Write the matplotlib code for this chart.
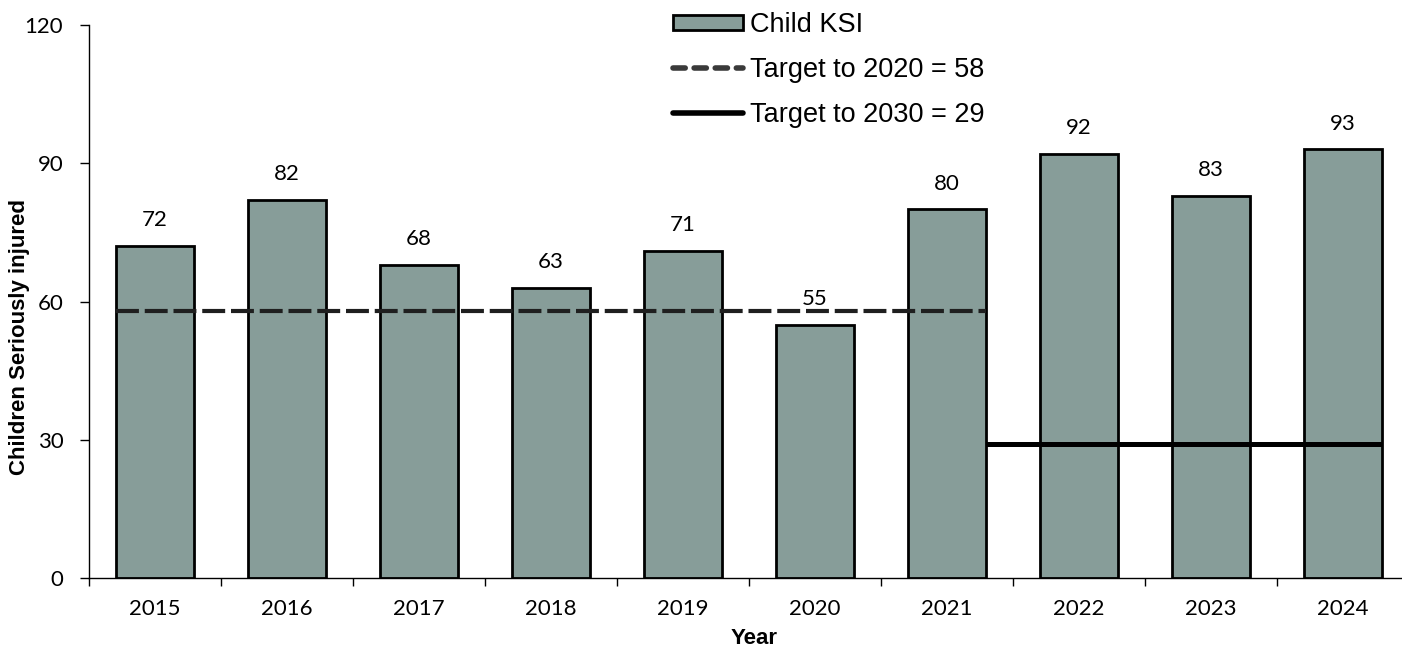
import matplotlib
matplotlib.use("Agg")
import matplotlib.pyplot as plt
from matplotlib.patches import Patch
from matplotlib.lines import Line2D
import numpy as np

years = ["2015", "2016", "2017", "2018", "2019", "2020", "2021", "2022", "2023", "2024"]
child_ksi = [72, 82, 68, 63, 71, 55, 80, 92, 83, 93]
target_2020 = 58
target_2030 = 29
target_2020_span = (0, 6)   # category indices covered
target_2030_span = (6, 9)
yticks = [0, 30, 60, 90, 120]
labels = ["Child KSI", "Target to 2020 = 58", "Target to 2030 = 29"]

BAR_COLOR = "#879D99"
W, H = 1402, 648
fig = plt.figure(figsize=(W / 100, H / 100), dpi=100)
left, right, top, bottom = 89, 1409, 25, 578
ax = fig.add_axes([left / W, 1 - bottom / H, (right - left) / W, (bottom - top) / H])

x = np.arange(len(years))
bw = 0.59
ax.bar(x, child_ksi, width=bw, color=BAR_COLOR, edgecolor="black", linewidth=2, zorder=2)

ax.plot([target_2020_span[0] - bw / 2, target_2020_span[1] + bw / 2], [target_2020] * 2,
        color="#1f1f1f", linewidth=3.0, dashes=(5.5, 1.4), zorder=3,
        dash_capstyle="butt")
ax.plot([target_2030_span[0] + bw / 2, target_2030_span[1] + bw / 2], [target_2030] * 2,
        color="black", linewidth=3.6, zorder=3, solid_capstyle="butt")

for xi, v in zip(x, child_ksi):
    ax.text(xi, v + 5.6, str(v), ha="center", va="center", fontsize=16, family="Lato")

ax.set_xlim(-0.5, len(years) - 0.5)
ax.set_ylim(0, 120)
ax.set_yticks(yticks)
ax.set_yticklabels([str(t) for t in yticks], fontsize=16, family="Lato")
ax.set_xticks(x)
ax.set_xticklabels(years, fontsize=16, family="Lato")
ax.set_xticks(np.arange(-0.5, len(years), 1.0), minor=True)
ax.tick_params(axis="x", which="major", length=0, pad=15)
ax.tick_params(axis="x", which="minor", length=6, width=1, direction="out")
ax.tick_params(axis="y", length=6.5, width=1, direction="out", pad=12)

for s in ["top", "right"]:
    ax.spines[s].set_visible(False)
ax.spines["left"].set_linewidth(1)
ax.spines["bottom"].set_linewidth(1)

fig.text(20 / W, 1 - 337 / H, "Children Seriously injured", rotation=90, ha="center",
         va="center", fontsize=16, fontweight="bold", family="Liberation Sans")
fig.text(754 / W, 1 - 638 / H, "Year", ha="center", va="center", fontsize=16,
         fontweight="bold", family="Liberation Sans")

handles = [
    Patch(facecolor=BAR_COLOR, edgecolor="black", linewidth=2),
    Line2D([0], [0], color="#3a3a3a", linewidth=4, dashes=(2.2, 1.6), dash_capstyle="round"),
    Line2D([0], [0], color="black", linewidth=4, solid_capstyle="round"),
]
leg = fig.legend(handles, labels, loc="upper left", bbox_to_anchor=(673 / W, 1 - 12 / H),
                 frameon=False, prop={"family": "Liberation Sans", "size": 19.5},
                 handlelength=2.6, handleheight=0.52, handletextpad=0.25,
                 labelspacing=0.7, borderaxespad=0, borderpad=0.0)

fig.savefig("out.png", dpi=100)
